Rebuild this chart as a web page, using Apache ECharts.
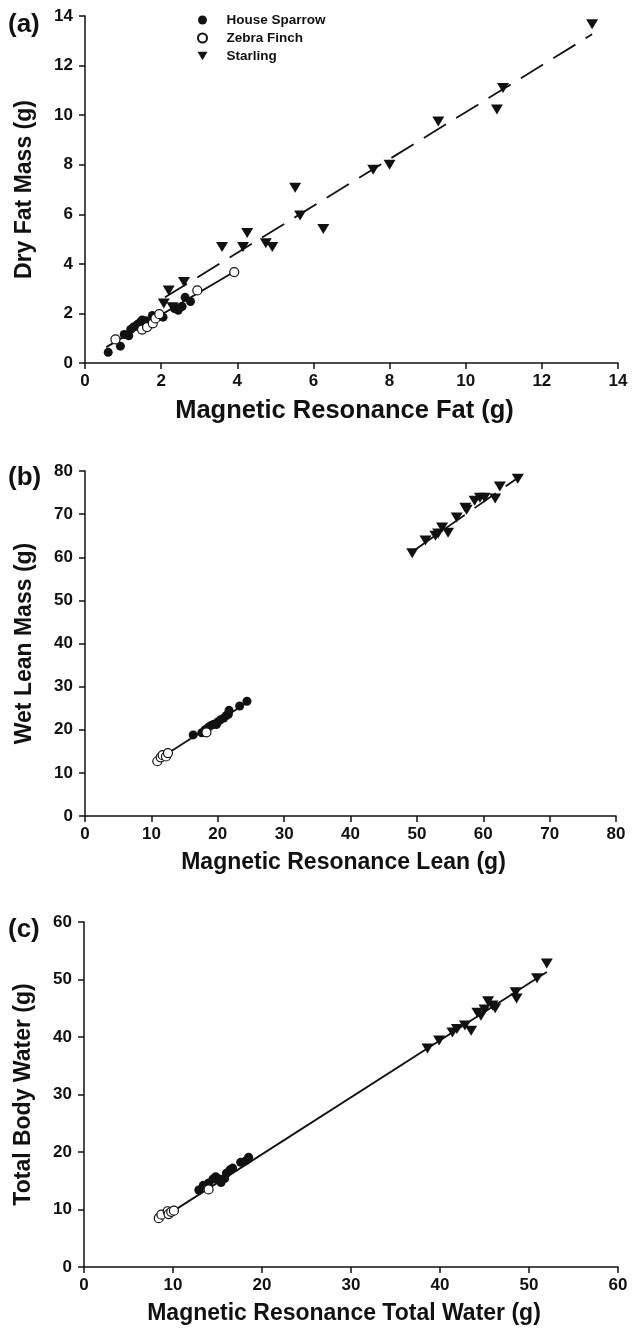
<!DOCTYPE html>
<html>
<head>
<meta charset="utf-8">
<script src="https://cdn.jsdelivr.net/npm/echarts@6/dist/echarts.min.js"></script>
<style>
  html, body { margin: 0; padding: 0; background: #fff; }
  #chart { width: 632px; height: 1330px; }
</style>
</head>
<body>
<div id="chart"></div>
<script>
// (a) dry fat mass vs MR fat
var sparrowFat = [[0.61,0.43],[0.93,0.68],[1.03,1.15],[1.15,1.1],[1.2,1.35],[1.27,1.45],[1.37,1.55],[1.45,1.65],[1.5,1.73],[1.6,1.7],[1.77,1.92],[1.82,1.8],[2.05,1.85],[2.35,2.2],[2.45,2.13],[2.55,2.28],[2.63,2.65],[2.77,2.48]]
var finchFat = [[0.8,0.95],[1.5,1.35],[1.63,1.45],[1.78,1.6],[1.85,1.8],[1.95,1.97],[2.95,2.93],[3.92,3.67]]
var starlingFat = [[2.07,2.4],[2.3,2.25],[2.2,2.93],[2.6,3.27],[3.6,4.68],[4.15,4.68],[4.26,5.25],[4.75,4.83],[4.92,4.68],[5.52,7.07],[5.65,5.95],[6.26,5.41],[7.57,7.8],[8.0,8.0],[9.28,9.74],[10.82,10.23],[10.98,11.1],[13.32,13.67]]
var smallFitFat = [[0.56,0.64],[3.92,3.68]]
var starlingFitFat = [[2.1,2.65],[13.32,13.26]]

// (b) wet lean mass vs MR lean
var sparrowLean = [[16.3,18.8],[17.6,19.3],[18.1,20.0],[18.6,20.6],[19.0,21.0],[19.4,21.3],[19.8,21.2],[20.0,21.8],[20.4,22.3],[20.9,22.7],[21.3,23.3],[21.6,23.6],[21.7,24.5],[23.3,25.5],[24.4,26.6]]
var finchLean = [[10.9,12.7],[11.4,13.6],[11.7,14.1],[12.2,13.8],[12.5,14.6],[18.3,19.4]]
var starlingLean = [[49.3,60.9],[51.3,63.9],[52.8,65.0],[53.2,65.5],[53.8,66.9],[54.7,65.7],[56.0,69.2],[57.3,71.5],[57.5,71.0],[58.7,73.1],[59.5,73.8],[60.2,73.8],[61.8,73.6],[62.5,76.4],[65.2,78.2]]
var smallFitLean = [[10.9,13.0],[24.5,26.4]]
var starlingFitLean = [[49.3,61.3],[65.2,78.4]]

// (c) total body water vs MR total water
var sparrowWater = [[12.9,13.4],[13.4,14.2],[14.0,14.6],[14.5,15.3],[14.8,15.7],[15.2,15.3],[15.4,14.7],[15.8,15.4],[16.0,16.3],[16.4,16.9],[16.7,17.2],[17.6,18.2],[18.2,18.5],[18.5,19.1]]
var finchWater = [[8.4,8.5],[8.7,9.1],[9.4,9.7],[9.5,9.2],[9.8,9.6],[10.1,9.8],[14.0,13.5]]
var starlingWater = [[38.6,38.0],[39.9,39.4],[41.4,40.8],[41.9,41.4],[42.8,42.0],[43.5,41.1],[44.2,44.2],[44.6,43.7],[45.0,44.8],[45.4,46.2],[45.9,45.5],[46.2,45.0],[48.5,47.8],[48.6,46.7],[50.9,50.2],[52.0,52.8]]
var allFitWater = [[9.8,9.5],[52.0,51.3]]

var xTitles = ['Magnetic Resonance Fat (g)', 'Magnetic Resonance Lean (g)', 'Magnetic Resonance Total Water (g)']
var yTitles = ['Dry Fat Mass (g)', 'Wet Lean Mass (g)', 'Total Body Water (g)']
var axisMax = [14, 80, 60]
var axisStep = [2, 10, 10]
var panelLabels = ['(a)', '(b)', '(c)']

var chart = echarts.init(document.getElementById('chart'))
var font = "'Liberation Sans', Arial, sans-serif"
var ink = '#111'

var grids = [
    { left: 85, right: 14, top: 16, height: 347 },
    { left: 85, right: 16, top: 471, height: 345 },
    { left: 84, right: 14, top: 922, height: 345 }
]
var xTitleSize = [25.5, 23, 23]

function makeAxis(i, isX) {
    return {
        type: 'value',
        gridIndex: i,
        min: 0,
        max: axisMax[i],
        interval: axisStep[i],
        name: isX ? xTitles[i] : yTitles[i],
        nameLocation: 'middle',
        nameGap: isX ? 35 : 49,
        nameTextStyle: {
            fontFamily: font, fontWeight: 'bold', fontSize: isX ? xTitleSize[i] : 23, color: ink,
            padding: isX ? [0, 14, 0, 0] : 0
        },
        splitLine: { show: false },
        axisLine: { show: true, onZero: false, lineStyle: { color: ink, width: 1.5 } },
        axisTick: { show: true, inside: false, length: 6, lineStyle: { color: ink, width: 1.5 } },
        axisLabel: { margin: isX ? 10 : 12, fontFamily: font, fontWeight: 'bold', fontSize: 17, color: ink }
    }
}

var series = []
function dots(i, name, data, style) {
    var s = {
        name: name,
        type: 'scatter',
        xAxisIndex: i,
        yAxisIndex: i,
        data: data,
        silent: true,
        z: 3
    }
    if (style === 'filled') {
        s.symbol = 'circle'; s.symbolSize = 9
        s.itemStyle = { color: ink, opacity: 1 }
    } else if (style === 'open') {
        s.symbol = 'circle'; s.symbolSize = 9
        s.itemStyle = { color: '#fff', borderColor: ink, borderWidth: 1.2, opacity: 1 }
    } else {
        s.symbol = 'triangle'; s.symbolSize = [12, 10]; s.symbolRotate = 180
        s.itemStyle = { color: ink, opacity: 1 }
    }
    series.push(s)
}
function fit(i, data, dashed) {
    series.push({
        type: 'line',
        xAxisIndex: i,
        yAxisIndex: i,
        data: data,
        symbol: 'none',
        silent: true,
        z: 2,
        lineStyle: { color: ink, width: 1.8, type: dashed ? [26, 12] : 'solid' }
    })
}

fit(0, smallFitFat, false)
fit(0, starlingFitFat, true)
dots(0, 'House Sparrow', sparrowFat, 'filled')
dots(0, 'Zebra Finch', finchFat, 'open')
dots(0, 'Starling', starlingFat, 'tri')

fit(1, smallFitLean, false)
fit(1, starlingFitLean, true)
dots(1, 'House Sparrow', sparrowLean, 'filled')
dots(1, 'Zebra Finch', finchLean, 'open')
dots(1, 'Starling', starlingLean, 'tri')

fit(2, allFitWater, false)
dots(2, 'House Sparrow', sparrowWater, 'filled')
dots(2, 'Zebra Finch', finchWater, 'open')
dots(2, 'Starling', starlingWater, 'tri')

var labelTops = [12, 465, 917]

chart.setOption({
    animation: false,
    backgroundColor: '#fff',
    grid: grids,
    xAxis: [makeAxis(0, true), makeAxis(1, true), makeAxis(2, true)],
    yAxis: [makeAxis(0, false), makeAxis(1, false), makeAxis(2, false)],
    legend: {
        data: [
            { name: 'House Sparrow', icon: 'circle' },
            { name: 'Zebra Finch', icon: 'circle' },
            { name: 'Starling', icon: 'path://M0,0 L12,0 L6,10 Z' }
        ],
        orient: 'vertical',
        left: 192,
        top: 8,
        itemWidth: 10,
        itemHeight: 9,
        itemGap: 4,
        selectedMode: false,
        textStyle: { fontFamily: font, fontWeight: 'bold', fontSize: 13.5, color: ink, padding: [0, 0, 0, 14] }
    },
    graphic: panelLabels.map(function (t, i) {
        return {
            type: 'text',
            left: 8,
            top: labelTops[i],
            style: { text: t, font: 'bold 26px ' + font, fill: ink }
        }
    }),
    series: series
})
</script>
</body>
</html>
